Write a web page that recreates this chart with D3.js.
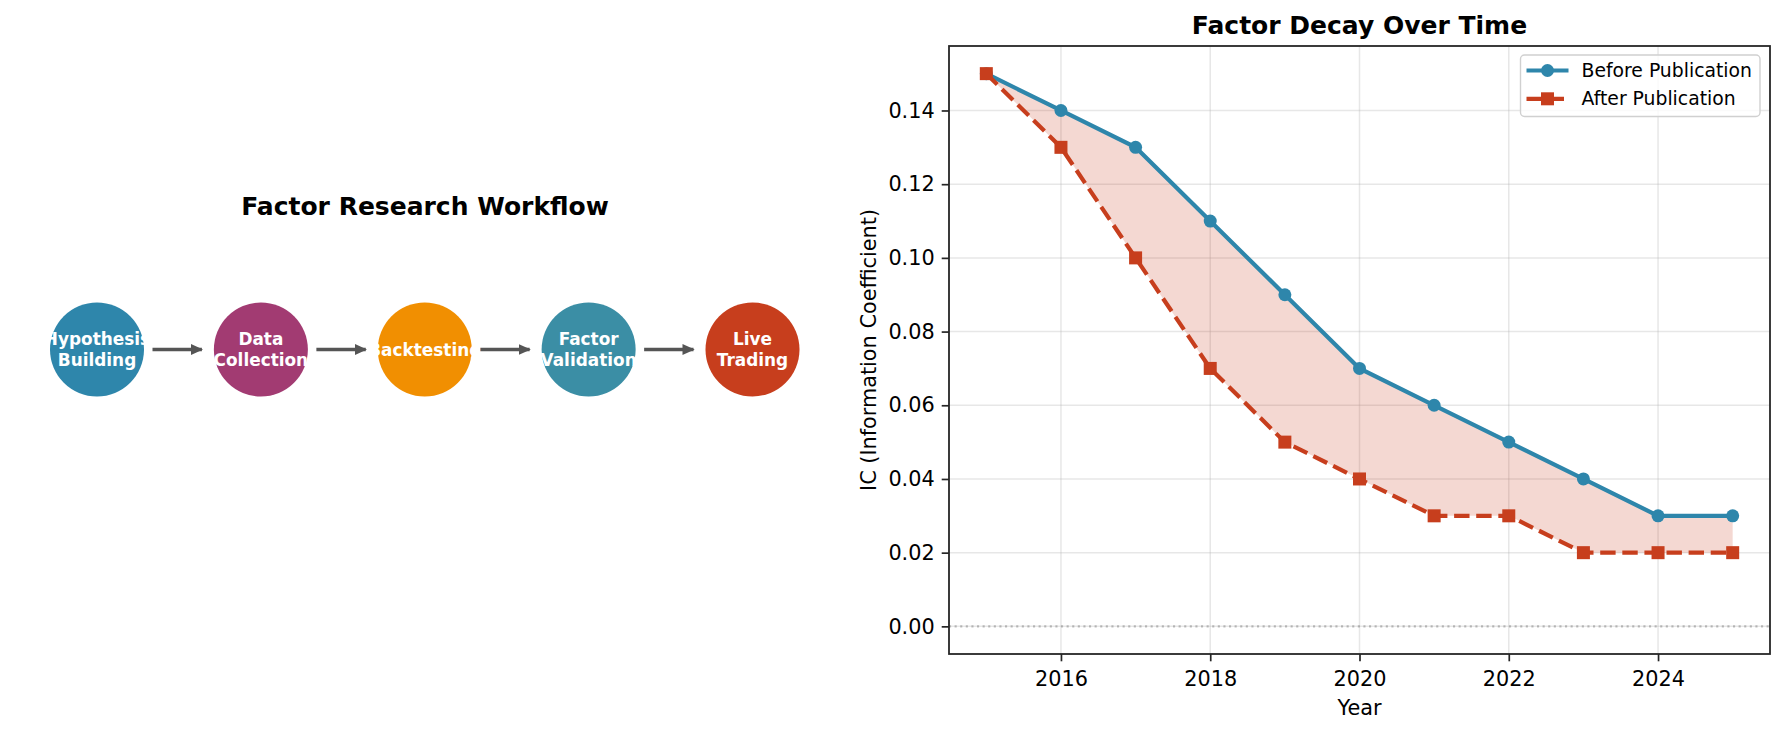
<!DOCTYPE html>
<html>
<head>
<meta charset="utf-8">
<script src="https://cdn.jsdelivr.net/npm/d3@7"></script>
<style>
  body { margin: 0; background: #fff; }
  svg { font-family: "DejaVu Sans", sans-serif; }
</style>
</head>
<body>
<div class="canvas"></div>
<script>
// data
const steps = ["Hypothesis\nBuilding", "Data\nCollection", "Backtesting", "Factor\nValidation", "Live\nTrading"];
const stepColors = ["#2E86AB", "#A23B72", "#F18F01", "#3B8EA5", "#C73E1D"];
const years = [2015, 2016, 2017, 2018, 2019, 2020, 2021, 2022, 2023, 2024, 2025];
const beforePub = [0.15, 0.14, 0.13, 0.11, 0.09, 0.07, 0.06, 0.05, 0.04, 0.03, 0.03];
const afterPub = [0.15, 0.13, 0.10, 0.07, 0.05, 0.04, 0.03, 0.03, 0.02, 0.02, 0.02];
const yTicks = [0, 0.02, 0.04, 0.06, 0.08, 0.10, 0.12, 0.14];
const xTicks = [2016, 2018, 2020, 2022, 2024];

const w = 1785;
const h = 734;
const svg = d3.select(".canvas").append("svg").attr("width", w).attr("height", h);

// ---------- left panel: workflow ----------
const flowX = d3.scalePoint().domain(d3.range(steps.length)).range([97, 752.5]);
const flowY = 349.5;
const r = 47;

svg.append("defs").append("marker")
  .attr("id", "arrow")
  .attr("viewBox", "0 0 10 10")
  .attr("refX", 9).attr("refY", 5)
  .attr("markerWidth", 3.4).attr("markerHeight", 3.4)
  .attr("markerUnits", "strokeWidth")
  .attr("orient", "auto")
  .append("path")
  .attr("d", "M0,0.5 L10,5 L0,9.5 z")
  .attr("fill", "#555");

svg.append("text")
  .attr("x", 425).attr("y", 214.5)
  .attr("text-anchor", "middle")
  .attr("font-size", "25px").attr("font-weight", "bold")
  .text("Factor Research Workflow");

// arrows between steps
svg.selectAll("line.arrow")
  .data(d3.range(steps.length - 1))
  .enter().append("line")
  .attr("class", "arrow")
  .attr("x1", (d) => flowX(d) + r + 8.5)
  .attr("x2", (d) => flowX(d + 1) - r - 12)
  .attr("y1", flowY).attr("y2", flowY)
  .attr("stroke", "#555").attr("stroke-width", 3.6)
  .attr("marker-end", "url(#arrow)");

const nodes = svg.selectAll("g.step")
  .data(steps)
  .enter().append("g")
  .attr("class", "step")
  .attr("transform", (d, i) => `translate(${flowX(i)}, ${flowY})`);

nodes.append("circle")
  .attr("r", r)
  .attr("fill", (d, i) => stepColors[i]);

nodes.append("text")
  .attr("text-anchor", "middle")
  .attr("fill", "#fff")
  .attr("font-size", "16.9px").attr("font-weight", "bold")
  .selectAll("tspan")
  .data((d) => d.split("\n").map((t, i, a) => ({ t, i, n: a.length })))
  .enter().append("tspan")
  .attr("x", 0)
  .attr("y", (d) => (d.i - (d.n - 1) / 2) * 21 + 6)
  .text((d) => d.t);

// ---------- right panel: decay chart ----------
const m = { left: 949, right: 1770, top: 46, bottom: 654 };
const x = d3.scaleLinear().domain([2014.5, 2025.5]).range([m.left, m.right]);
const y = d3.scaleLinear().domain([-0.0075, 0.1575]).range([m.bottom, m.top]);

const plot = svg.append("g");

// grid
plot.selectAll("line.gx").data(xTicks).enter().append("line")
  .attr("x1", (d) => x(d)).attr("x2", (d) => x(d))
  .attr("y1", m.top).attr("y2", m.bottom)
  .attr("stroke", "#b0b0b0").attr("stroke-opacity", 0.3).attr("stroke-width", 1.5);
plot.selectAll("line.gy").data(yTicks).enter().append("line")
  .attr("y1", (d) => y(d)).attr("y2", (d) => y(d))
  .attr("x1", m.left).attr("x2", m.right)
  .attr("stroke", "#b0b0b0").attr("stroke-opacity", 0.3).attr("stroke-width", 1.5);

// zero line
plot.append("line")
  .attr("x1", m.left).attr("x2", m.right)
  .attr("y1", y(0)).attr("y2", y(0))
  .attr("stroke", "#808080").attr("stroke-opacity", 0.5)
  .attr("stroke-width", 2.1).attr("stroke-dasharray", "2.1,3.5");

// shaded area between the two series
const area = d3.area()
  .x((d, i) => x(years[i]))
  .y0((d, i) => y(afterPub[i]))
  .y1((d) => y(d));
plot.append("path")
  .datum(beforePub)
  .attr("d", area)
  .attr("fill", "#C73E1D").attr("fill-opacity", 0.2);

const line = d3.line().x((d, i) => x(years[i])).y((d) => y(d));
const lw = 4.2;
const dash = "15.4,6.7";
const ms = 13;

plot.append("path").datum(beforePub)
  .attr("d", line).attr("fill", "none")
  .attr("stroke", "#2E86AB").attr("stroke-width", lw);
plot.selectAll("circle.before").data(beforePub).enter().append("circle")
  .attr("cx", (d, i) => x(years[i])).attr("cy", (d) => y(d))
  .attr("r", ms / 2).attr("fill", "#2E86AB");

plot.append("path").datum(afterPub)
  .attr("d", line).attr("fill", "none")
  .attr("stroke", "#C73E1D").attr("stroke-width", lw)
  .attr("stroke-dasharray", dash);
plot.selectAll("rect.after").data(afterPub).enter().append("rect")
  .attr("x", (d, i) => x(years[i]) - ms / 2).attr("y", (d) => y(d) - ms / 2)
  .attr("width", ms).attr("height", ms).attr("fill", "#C73E1D");

// axes
const xAxis = svg.append("g")
  .attr("transform", `translate(0, ${m.bottom})`)
  .call(d3.axisBottom(x).tickValues(xTicks).tickFormat(d3.format("d")).tickSizeOuter(0).tickSize(7.3).tickPadding(10));
const yAxis = svg.append("g")
  .attr("transform", `translate(${m.left}, 0)`)
  .call(d3.axisLeft(y).tickValues(yTicks).tickFormat(d3.format(".2f")).tickSizeOuter(0).tickSize(7.3).tickPadding(7));
[xAxis, yAxis].forEach((a) => {
  a.select(".domain").remove();
  a.selectAll("text").attr("font-size", "20.8px").attr("font-family", "DejaVu Sans").attr("fill", "#000");
  a.selectAll(".tick line").attr("stroke", "#262626").attr("stroke-width", 1.7);
});

// frame
svg.append("rect")
  .attr("x", m.left).attr("y", m.top)
  .attr("width", m.right - m.left).attr("height", m.bottom - m.top)
  .attr("fill", "none").attr("stroke", "#262626").attr("stroke-width", 1.8);

// titles
svg.append("text")
  .attr("x", (m.left + m.right) / 2).attr("y", 33.5)
  .attr("text-anchor", "middle")
  .attr("font-size", "25px").attr("font-weight", "bold")
  .text("Factor Decay Over Time");
svg.append("text")
  .attr("x", (m.left + m.right) / 2).attr("y", 714.5)
  .attr("text-anchor", "middle").attr("font-size", "20.8px")
  .text("Year");
svg.append("text")
  .attr("transform", `translate(876, ${(m.top + m.bottom) / 2}) rotate(-90)`)
  .attr("text-anchor", "middle").attr("font-size", "20.8px")
  .text("IC (Information Coefficient)");

// legend
const legend = svg.append("g").attr("transform", "translate(1520.5, 55)");
legend.append("rect")
  .attr("width", 239.5).attr("height", 61.5).attr("rx", 4)
  .attr("fill", "#fff").attr("fill-opacity", 0.8)
  .attr("stroke", "#d0d0d0").attr("stroke-width", 1.4);
const legendItems = [
  { name: "Before Publication", color: "#2E86AB", shape: "circle", dash: null },
  { name: "After Publication", color: "#C73E1D", shape: "square", dash: dash },
];
const li = legend.selectAll("g.item").data(legendItems).enter().append("g")
  .attr("transform", (d, i) => `translate(6, ${15.5 + i * 28.3})`);
li.append("line")
  .attr("x1", 0).attr("x2", 42)
  .attr("stroke", (d) => d.color).attr("stroke-width", lw)
  .attr("stroke-dasharray", (d) => d.dash);
li.filter((d) => d.shape === "circle").append("circle")
  .attr("cx", 21).attr("r", ms / 2).attr("fill", (d) => d.color);
li.filter((d) => d.shape === "square").append("rect")
  .attr("x", 21 - ms / 2).attr("y", -ms / 2).attr("width", ms).attr("height", ms).attr("fill", (d) => d.color);
li.append("text")
  .attr("x", 55).attr("y", 6.5)
  .attr("font-size", "18.8px")
  .text((d) => d.name);
</script>
</body>
</html>
